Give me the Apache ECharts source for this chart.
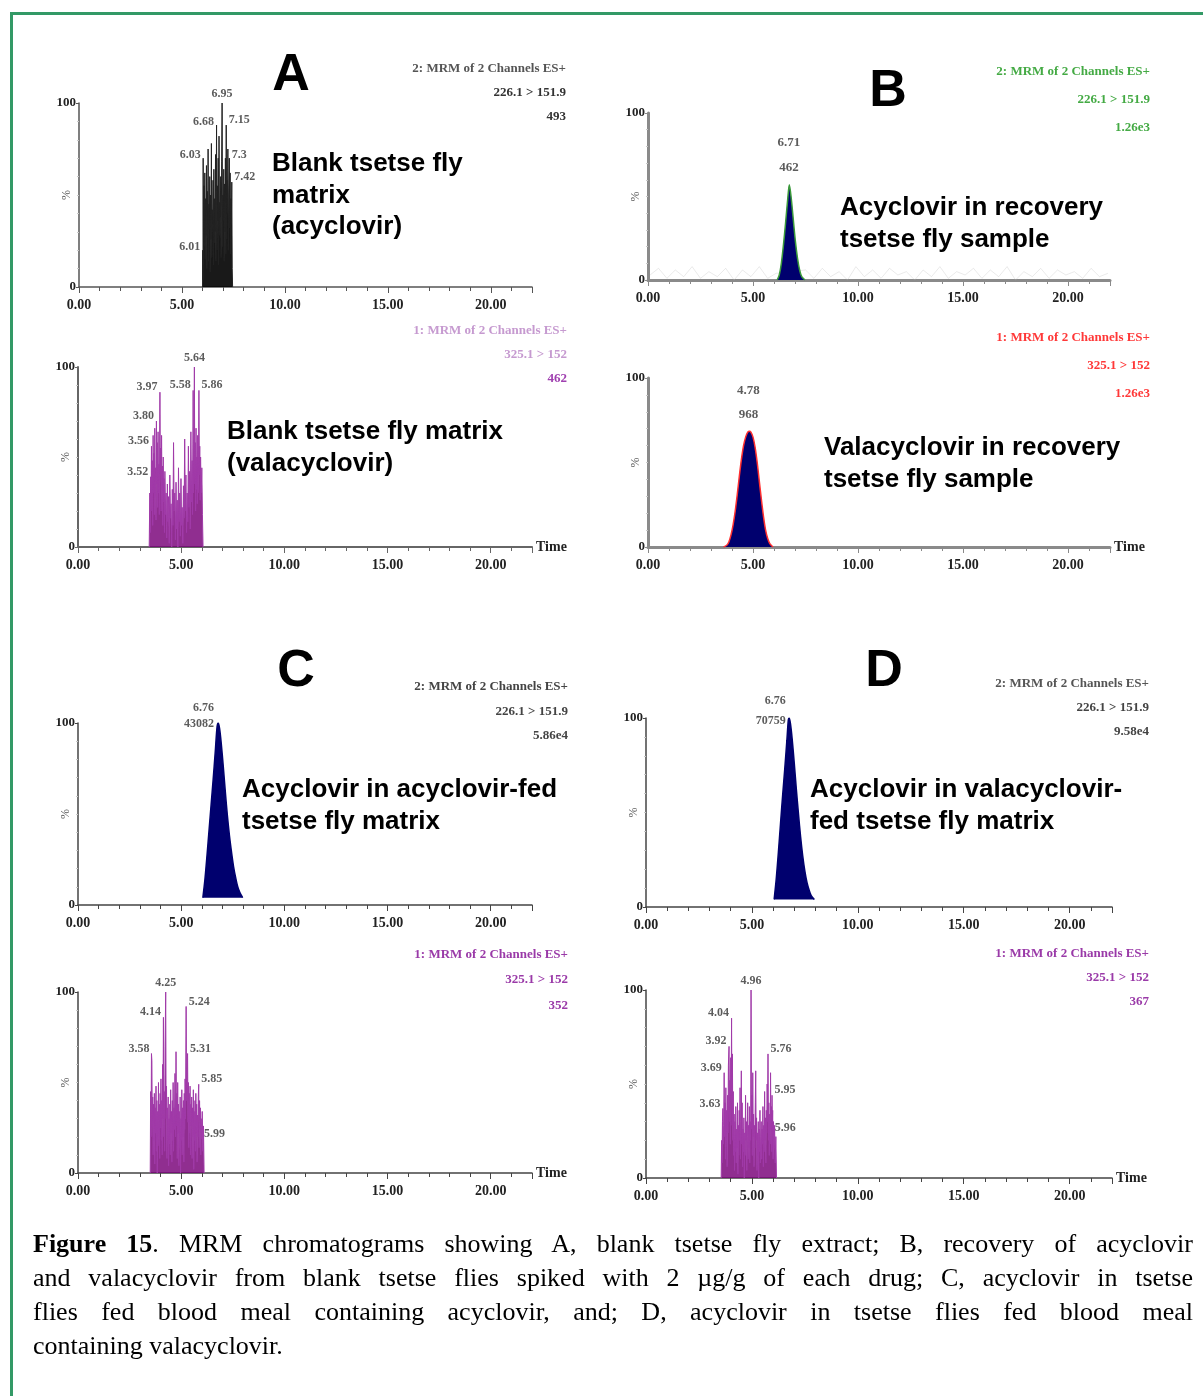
<!DOCTYPE html>
<html>
<head>
<meta charset="utf-8">
<title>Figure 15 - MRM chromatograms</title>
<script src="https://cdn.jsdelivr.net/npm/echarts@6/dist/echarts.min.js"></script>
<style>
  html, body { margin: 0; padding: 0; background: #fff; }
  #wrap { position: relative; width: 1203px; height: 1396px; overflow: hidden; }
  #chart { position: absolute; left: 0; top: 0; width: 1203px; height: 1396px; }
  #frame { position: absolute; left: 10px; top: 12px; width: 1300px; height: 1500px;
           border-left: 3px solid #339966; border-top: 3px solid #339966; pointer-events: none; }
  #caption { position: absolute; left: 33px; top: 1227px; width: 1160px;
             font-family: 'Liberation Serif', 'Times New Roman', serif; font-size: 26px; line-height: 34px; color: #000; }
  #caption div { text-align: justify; text-align-last: justify; }
  #caption div.last { text-align-last: left; }
</style>
</head>
<body>
<div id="wrap">
  <div id="chart"></div>
  <div id="frame"></div>
  <div id="caption">
    <div><b>Figure 15</b>. MRM chromatograms showing A, blank tsetse fly extract; B, recovery of acyclovir</div>
    <div>and valacyclovir from blank tsetse flies spiked with 2 µg/g of each drug; C, acyclovir in tsetse</div>
    <div>flies fed blood meal containing acyclovir, and; D, acyclovir in tsetse flies fed blood meal</div>
    <div class="last">containing valacyclovir.</div>
  </div>
</div>
<script>
// ---- data: [time (min), intensity (%)] ----
// A: blank matrix, acyclovir channel (226.1 > 151.9)
const traceA1 = [[6.00,0],[6.01,20],[6.02,4],[6.03,70],[6.05,12],[6.07,55],[6.09,22],[6.11,62],[6.13,15],[6.15,48],
  [6.17,28],[6.19,66],[6.21,10],[6.23,52],[6.25,30],[6.27,75],[6.29,14],[6.31,45],[6.33,32],[6.35,60],[6.37,8],[6.39,50],
  [6.41,26],[6.43,78],[6.45,16],[6.47,42],[6.49,34],[6.51,58],[6.53,12],[6.55,64],[6.57,24],[6.59,48],[6.61,30],[6.63,72],
  [6.65,14],[6.68,88],[6.70,20],[6.72,55],[6.74,36],[6.76,70],[6.78,12],[6.80,82],[6.82,28],[6.84,46],[6.86,38],[6.88,60],
  [6.90,16],[6.93,68],[6.95,100],[6.97,22],[6.99,50],[7.01,36],[7.03,64],[7.05,14],[7.07,56],[7.09,30],[7.11,70],[7.13,18],
  [7.15,88],[7.17,26],[7.19,58],[7.21,40],[7.23,75],[7.25,20],[7.27,50],[7.30,70],[7.32,32],[7.34,62],[7.36,18],[7.38,48],
  [7.40,34],[7.42,57],[7.44,10],[7.46,0]];
const labelTimesA1 = ['6.01', '6.03', '6.68', '6.95', '7.15', '7.3', '7.42'];
const labelHeightsA1 = [19, 69, 87, 100, 88, 69, 57];
const headerA1 = ['2: MRM of 2 Channels ES+', '226.1 > 151.9', '493'];

// A: blank matrix, valacyclovir channel (325.1 > 152)
const traceA2 = [[3.45,0],[3.48,30],[3.50,8],[3.52,39],[3.54,20],[3.56,56],[3.58,25],[3.60,48],[3.62,12],[3.64,62],
  [3.66,30],[3.68,52],[3.70,18],[3.72,66],[3.74,28],[3.76,44],[3.78,15],[3.80,70],[3.82,35],[3.84,58],[3.86,22],[3.88,64],
  [3.90,30],[3.92,46],[3.94,18],[3.97,86],[3.99,40],[4.01,55],[4.03,20],[4.05,62],[4.07,32],[4.09,45],[4.11,12],[4.13,50],
  [4.15,25],[4.17,38],[4.19,8],[4.21,42],[4.24,18],[4.27,30],[4.30,5],[4.33,35],[4.36,14],[4.39,28],[4.42,2],[4.45,40],
  [4.48,16],[4.51,24],[4.54,0],[4.57,32],[4.60,12],[4.63,58],[4.66,20],[4.69,30],[4.72,4],[4.75,36],[4.78,10],[4.81,26],
  [4.84,0],[4.87,44],[4.90,14],[4.93,30],[4.96,6],[4.99,38],[5.02,12],[5.05,22],[5.08,2],[5.11,34],[5.14,16],[5.17,60],
  [5.20,20],[5.23,40],[5.26,8],[5.29,30],[5.32,14],[5.35,56],[5.38,22],[5.41,42],[5.44,10],[5.47,64],[5.50,25],[5.53,48],
  [5.55,18],[5.58,87],[5.60,30],[5.62,52],[5.64,100],[5.66,35],[5.68,58],[5.70,20],[5.72,66],[5.74,32],[5.76,50],[5.78,24],
  [5.80,62],[5.82,30],[5.84,45],[5.86,87],[5.88,40],[5.90,56],[5.92,26],[5.94,50],[5.97,30],[6.00,44],[6.03,18],[6.06,0]];
const labelTimesA2 = ['3.52', '3.56', '3.80', '3.97', '5.58', '5.64', '5.86'];
const labelHeightsA2 = [39, 56, 70, 86, 87, 100, 87];
const headerA2 = ['1: MRM of 2 Channels ES+', '325.1 > 152', '462'];

// B: recovery sample, acyclovir
const traceB1 = [[6.15,0],[6.25,3],[6.35,10],[6.45,21],[6.55,34],[6.65,48],[6.73,57],[6.82,49],[6.92,36],[7.02,23],
  [7.12,13],[7.22,6],[7.32,2],[7.48,0]];
const baselineB1 = [[0.1,3],[0.5,7],[0.9,1],[1.3,6],[1.7,2],[2.1,8],[2.5,1],[2.9,5],[3.3,2],[3.7,7],[4.1,0],[4.5,6],
  [4.9,2],[5.3,8],[5.7,1],[6.1,4],[7.5,6],[7.9,1],[8.3,7],[8.7,2],[9.1,5],[9.5,0],[9.9,8],[10.3,2],[10.7,6],[11.1,1],
  [11.5,7],[11.9,3],[12.3,5],[12.7,0],[13.1,6],[13.5,2],[13.9,8],[14.3,1],[14.7,5],[15.1,3],[15.5,7],[15.9,1],[16.3,6],
  [16.7,2],[17.1,8],[17.5,0],[17.9,5],[18.3,2],[18.7,7],[19.1,1],[19.5,6],[19.9,3],[20.3,5],[20.7,1],[21.1,7],[21.5,2],[21.9,4]];
const labelTimesB1 = ['6.71'];
const labelHeightsB1 = [57];
const labelAreasB1 = ['462'];
const headerB1 = ['2: MRM of 2 Channels ES+', '226.1 > 151.9', '1.26e3'];

// B: recovery sample, valacyclovir
const traceB2 = [[3.60,0],[3.75,1],[3.85,3],[3.95,7],[4.05,13],[4.15,21],[4.25,31],[4.35,42],[4.45,52],[4.55,60],
  [4.65,65],[4.75,68],[4.83,68.5],[4.90,68],[5.00,65],[5.10,59],[5.20,50],[5.30,39],[5.40,28],[5.50,18],[5.60,10],
  [5.70,5],[5.80,2],[5.95,0]];
const labelTimesB2 = ['4.78'];
const labelHeightsB2 = [68.5];
const labelAreasB2 = ['968'];
const headerB2 = ['1: MRM of 2 Channels ES+', '325.1 > 152', '1.26e3'];

// C: acyclovir-fed flies
const traceC1 = [[6.05,4],[6.15,14],[6.25,27],[6.35,41],[6.45,55],[6.55,69],[6.65,84],[6.74,98],[6.80,100],[6.86,97],
  [6.94,89],[7.04,76],[7.14,62],[7.24,49],[7.34,38],[7.44,29],[7.54,21],[7.64,15],[7.74,10],[7.84,7],[7.98,4]];
const labelTimesC1 = ['6.76'];
const labelHeightsC1 = [100];
const labelAreasC1 = ['43082'];
const headerC1 = ['2: MRM of 2 Channels ES+', '226.1 > 151.9', '5.86e4'];

const traceC2 = [[3.50,0],[3.52,45],[3.54,20],[3.56,66],[3.58,62],[3.60,25],[3.62,42],[3.64,10],[3.66,38],[3.68,18],
  [3.70,44],[3.72,5],[3.74,36],[3.76,22],[3.78,48],[3.80,12],[3.82,40],[3.84,0],[3.86,34],[3.88,20],[3.90,50],[3.92,15],
  [3.94,38],[3.96,8],[3.98,44],[4.00,25],[4.02,52],[4.04,18],[4.06,40],[4.08,10],[4.10,60],[4.12,30],[4.14,86],[4.16,20],
  [4.18,45],[4.20,12],[4.22,70],[4.25,100],[4.27,30],[4.29,48],[4.31,8],[4.33,36],[4.35,18],[4.37,42],[4.39,4],[4.41,30],
  [4.43,16],[4.45,38],[4.47,10],[4.49,46],[4.51,22],[4.53,34],[4.55,6],[4.57,40],[4.59,18],[4.61,50],[4.63,12],[4.65,36],
  [4.67,24],[4.70,55],[4.73,20],[4.75,67],[4.77,26],[4.79,44],[4.81,8],[4.83,50],[4.85,22],[4.87,38],[4.89,4],[4.91,34],
  [4.93,14],[4.95,42],[4.97,0],[4.99,30],[5.01,18],[5.03,46],[5.05,10],[5.07,36],[5.09,20],[5.11,40],[5.13,6],[5.15,44],
  [5.17,24],[5.19,52],[5.21,30],[5.24,92],[5.26,40],[5.28,58],[5.31,66],[5.33,28],[5.35,50],[5.37,14],[5.39,44],[5.41,22],
  [5.43,48],[5.45,10],[5.47,38],[5.49,26],[5.51,42],[5.53,8],[5.55,36],[5.57,20],[5.59,46],[5.61,2],[5.63,34],[5.65,18],
  [5.67,40],[5.69,12],[5.71,44],[5.73,22],[5.75,38],[5.77,6],[5.79,32],[5.81,20],[5.83,42],[5.85,49],[5.87,14],[5.89,40],
  [5.91,24],[5.93,36],[5.95,10],[5.97,30],[5.99,19],[6.02,34],[6.05,12],[6.08,26],[6.11,0]];
const labelTimesC2 = ['3.58', '4.14', '4.25', '5.24', '5.31', '5.85', '5.99'];
const labelHeightsC2 = [66, 86, 100, 92, 66, 49, 19];
const headerC2 = ['1: MRM of 2 Channels ES+', '325.1 > 152', '352'];

// D: valacyclovir-fed flies
const traceD1 = [[6.05,4],[6.15,15],[6.25,29],[6.35,44],[6.45,59],[6.55,73],[6.65,88],[6.72,99],[6.76,100],[6.82,97],
  [6.90,89],[7.00,76],[7.10,62],[7.20,49],[7.30,37],[7.40,27],[7.50,19],[7.60,13],[7.70,9],[7.80,6],[7.95,4]];
const labelTimesD1 = ['6.76'];
const labelHeightsD1 = [100];
const labelAreasD1 = ['70759'];
const headerD1 = ['2: MRM of 2 Channels ES+', '226.1 > 151.9', '9.58e4'];

const traceD2 = [[3.55,0],[3.57,20],[3.59,8],[3.61,30],[3.63,37],[3.65,18],[3.67,28],[3.69,56],[3.71,22],
  [3.73,40],[3.75,10],[3.77,48],[3.79,20],[3.81,36],[3.83,6],[3.85,44],[3.87,24],[3.89,60],[3.92,70],[3.94,30],[3.96,52],
  [3.98,18],[4.00,64],[4.02,40],[4.04,85],[4.06,28],[4.08,66],[4.10,20],[4.12,46],[4.14,12],[4.16,34],[4.18,4],[4.20,30],
  [4.22,14],[4.24,38],[4.26,8],[4.28,26],[4.30,16],[4.32,40],[4.34,2],[4.36,28],[4.38,12],[4.40,36],[4.42,20],[4.44,48],
  [4.46,10],[4.48,30],[4.50,57],[4.52,18],[4.54,40],[4.56,6],[4.58,26],[4.60,14],[4.62,32],[4.64,0],[4.66,24],[4.68,12],
  [4.70,44],[4.72,20],[4.74,30],[4.76,4],[4.78,22],[4.80,40],[4.82,10],[4.84,28],[4.86,16],[4.88,38],[4.90,8],[4.92,30],
  [4.94,20],[4.96,100],[4.98,26],[5.00,44],[5.02,12],[5.04,56],[5.06,22],[5.08,34],[5.10,6],[5.12,28],[5.14,16],[5.16,40],
  [5.18,57],[5.20,20],[5.22,32],[5.24,4],[5.26,24],[5.28,12],[5.30,30],[5.32,0],[5.34,26],[5.36,14],[5.38,36],[5.40,8],
  [5.42,22],[5.44,30],[5.46,10],[5.48,26],[5.50,18],[5.52,38],[5.54,6],[5.56,28],[5.58,14],[5.60,46],[5.62,20],[5.64,32],
  [5.66,8],[5.68,36],[5.70,24],[5.72,50],[5.74,30],[5.76,66],[5.78,20],[5.80,40],[5.82,12],[5.84,34],[5.86,18],[5.88,56],
  [5.90,26],[5.92,38],[5.94,14],[5.95,44],[5.96,24],[5.98,36],[6.00,10],[6.02,30],[6.04,16],[6.07,28],[6.10,8],
  [6.13,22],[6.16,0]];
const labelTimesD2 = ['3.63', '3.69', '3.92', '4.04', '4.96', '5.76', '5.95', '5.96'];
const labelHeightsD2 = [37, 56, 70, 85, 100, 66, 44, 24];
const headerD2 = ['1: MRM of 2 Channels ES+', '325.1 > 152', '367'];

const xTicks = [0, 5, 10, 15, 20];

// ---- layout / styling per panel ----
const serif = 'Liberation Serif';
const sans = 'Liberation Sans';
const navy = '#00006e';
const noiseLine = '#a03aa8';
const noiseFill = 'rgba(120,0,120,0.82)';

const panels = [
  { grid: {left: 79, top: 103, width: 453, height: 184}, trace: traceA1, line: '#222', fill: 'rgba(0,0,0,0.9)',
    labels: [labelTimesA1, labelHeightsA1], header: headerA1, headerColor: ['#555', '#333', '#333'],
    headerRight: 566, headerY: [69, 93, 117], time: false, axis: '#555', axisWidth: 1.5 },
  { grid: {left: 78, top: 367, width: 454, height: 180}, trace: traceA2, line: noiseLine, fill: noiseFill,
    labels: [labelTimesA2, labelHeightsA2], header: headerA2, headerColor: ['#c69ad0', '#c69ad0', '#a040b0'],
    headerRight: 567, headerY: [331, 355, 379], time: true, axis: '#666', axisWidth: 2 },
  { grid: {left: 648, top: 113, width: 462, height: 167}, trace: traceB1, line: '#3a9a3a', fill: navy, solid: true,
    baseline: baselineB1, labels: [labelTimesB1, labelHeightsB1, labelAreasB1], header: headerB1,
    headerColor: ['#44aa44', '#44aa44', '#44aa44'], headerRight: 1150, headerY: [72, 100, 128], time: false,
    axis: '#8a8a8a', axisWidth: 3, labelGap: 25 },
  { grid: {left: 648, top: 378, width: 462, height: 169}, trace: traceB2, line: '#ff3030', fill: navy, solid: true,
    labels: [labelTimesB2, labelHeightsB2, labelAreasB2], header: headerB2,
    headerColor: ['#ff3838', '#ff3838', '#ff3838'], headerRight: 1150, headerY: [338, 366, 394], time: true,
    axis: '#8a8a8a', axisWidth: 3, labelGap: 24 },
  { grid: {left: 78, top: 723, width: 454, height: 182}, trace: traceC1, line: navy, fill: navy, solid: true, origin: 4,
    labels: [labelTimesC1, labelHeightsC1, labelAreasC1], header: headerC1, headerColor: ['#444', '#444', '#444'],
    headerRight: 568, headerY: [687, 712, 736], time: false, axis: '#444', axisWidth: 1.5, labelGap: 16, sideLabel: true },
  { grid: {left: 78, top: 992, width: 454, height: 181}, trace: traceC2, line: noiseLine, fill: noiseFill,
    labels: [labelTimesC2, labelHeightsC2], header: headerC2, headerColor: ['#9a3aa8', '#9a3aa8', '#9a3aa8'],
    headerRight: 568, headerY: [955, 980, 1006], time: true, axis: '#444', axisWidth: 1.5 },
  { grid: {left: 646, top: 718, width: 466, height: 189}, trace: traceD1, line: navy, fill: navy, solid: true, origin: 4,
    labels: [labelTimesD1, labelHeightsD1, labelAreasD1], header: headerD1, headerColor: ['#555', '#444', '#444'],
    headerRight: 1149, headerY: [684, 708, 732], time: false, axis: '#444', axisWidth: 1.5, labelGap: 20, sideLabel: true },
  { grid: {left: 646, top: 990, width: 466, height: 188}, trace: traceD2, line: noiseLine, fill: noiseFill,
    labels: [labelTimesD2, labelHeightsD2], header: headerD2, headerColor: ['#9a3aa8', '#9a3aa8', '#9a3aa8'],
    headerRight: 1149, headerY: [954, 978, 1002], time: true, axis: '#444', axisWidth: 1.5 }
];

// big panel letters and the bold descriptions
const letters = [['A', 291, 76], ['B', 888, 92], ['C', 296, 672], ['D', 884, 672]];
const notes = [
  ['Blank tsetse fly\nmatrix\n(acyclovir)', 272, 164],
  ['Blank tsetse fly matrix\n(valacyclovir)', 227, 432],
  ['Acyclovir in recovery\ntsetse fly sample', 840, 208],
  ['Valacyclovir in recovery\ntsetse fly sample', 824, 448],
  ['Acyclovir in acyclovir-fed\ntsetse fly matrix', 242, 790],
  ['Acyclovir in valacyclovir-\nfed tsetse fly matrix', 810, 790]
];

// peak labels: left of the tallest go left, right of it go right
function labelItems(p) {
  const times = p.labels[0], heights = p.labels[1], areas = p.labels[2];
  const top = Math.max.apply(null, heights);
  const apexT = parseFloat(times[heights.indexOf(top)]);
  return times.map(function (t, k) {
    const tv = parseFloat(t);
    let label;
    if (areas) {
      label = p.sideLabel
        ? {position: 'left', distance: 3, offset: [0, -7], align: 'right', lineHeight: p.labelGap}
        : {position: 'top', distance: 4, lineHeight: p.labelGap, fontSize: 13};
      return {value: [tv, heights[k]], text: t + '\n' + areas[k], label: label};
    }
    if (tv < apexT) label = {position: 'left', distance: 2, offset: [0, -5]};
    else if (tv > apexT) label = {position: 'right', distance: 2, offset: [0, -5]};
    else label = {position: 'top', distance: 3};
    return {value: [tv, heights[k]], text: t, label: label};
  });
}

const grids = [], xAxes = [], yAxes = [], series = [], graphics = [];

panels.forEach(function (p, i) {
  grids.push(p.grid);
  xAxes.push({
    gridIndex: i, type: 'value', min: 0, max: 22, interval: 5,
    name: p.time ? 'Time' : '', nameLocation: 'end', nameGap: 4,
    nameTextStyle: {fontFamily: serif, fontWeight: 'bold', fontSize: 14, color: '#222'},
    axisLine: {onZero: false, lineStyle: {color: p.axis, width: p.axisWidth}},
    axisTick: {length: 6, lineStyle: {color: p.axis, width: 1}},
    minorTick: {show: true, splitNumber: 5, length: 4, lineStyle: {color: p.axis, width: 1}},
    axisLabel: {
      showMaxLabel: false, margin: 11, fontFamily: serif, fontWeight: 'bold', fontSize: 14, color: '#222',
      formatter: function (v) { return xTicks.indexOf(v) >= 0 ? v.toFixed(2) : ''; }
    },
    splitLine: {show: false}
  });
  yAxes.push({
    gridIndex: i, type: 'value', min: 0, max: 100, interval: 100,
    name: '%', nameLocation: 'middle', nameGap: 6, nameRotate: 90, nameMoveOverlap: false,
    nameTextStyle: {fontFamily: serif, fontSize: 12, color: '#555'},
    axisLine: {show: true, onZero: false, lineStyle: {color: p.axis, width: p.axisWidth}},
    axisTick: {show: true, length: 3, lineStyle: {color: p.axis}},
    minorTick: {show: true, splitNumber: 10, length: 2, lineStyle: {color: '#c8c8c8'}},
    axisLabel: {margin: 3, fontFamily: serif, fontWeight: 'bold', fontSize: 13, color: '#222'},
    splitLine: {show: false}
  });

  if (p.baseline) {
    series.push({
      type: 'line', xAxisIndex: i, yAxisIndex: i, data: p.baseline, symbol: 'none', silent: true, z: 1,
      lineStyle: {color: '#bbbbbb', width: 1, opacity: 0.3}
    });
  }
  series.push({
    type: 'line', xAxisIndex: i, yAxisIndex: i, data: p.trace, symbol: 'none', z: 3,
    smooth: p.solid ? 0.3 : false,
    lineStyle: {color: p.line, width: p.solid ? 1.5 : 1},
    areaStyle: {color: p.fill, opacity: 1, origin: p.origin !== undefined ? p.origin : 'auto'}
  });
  series.push({
    type: 'scatter', xAxisIndex: i, yAxisIndex: i, data: labelItems(p), symbolSize: 1, z: 5, silent: true,
    itemStyle: {color: 'rgba(0,0,0,0)'},
    label: {
      show: true, fontFamily: serif, fontWeight: 'bold', fontSize: 12, color: '#333',
      formatter: function (prm) { return prm.data.text; }
    }
  });

  p.header.forEach(function (line, k) {
    graphics.push({
      type: 'text', x: p.headerRight, y: p.headerY[k], silent: true,
      style: {text: line, align: 'right', verticalAlign: 'middle', fill: p.headerColor[k],
              font: 'bold 13px "' + serif + '"'}
    });
  });
});

letters.forEach(function (l) {
  graphics.push({
    type: 'text', x: l[1], y: l[2], silent: true,
    style: {text: l[0], align: 'center', verticalAlign: 'middle', fill: '#000', font: 'bold 52px "' + sans + '"'}
  });
});
notes.forEach(function (n) {
  graphics.push({
    type: 'text', x: n[1], y: n[2] - 15.75, silent: true,
    style: {text: n[0], align: 'left', verticalAlign: 'top', lineHeight: 31.5, fill: '#000',
            font: 'bold 26px "' + sans + '"'}
  });
});

const chart = echarts.init(document.getElementById('chart'));
chart.setOption({
  backgroundColor: '#fff',
  animation: false,
  grid: grids,
  xAxis: xAxes,
  yAxis: yAxes,
  series: series,
  graphic: graphics
});
</script>
</body>
</html>
